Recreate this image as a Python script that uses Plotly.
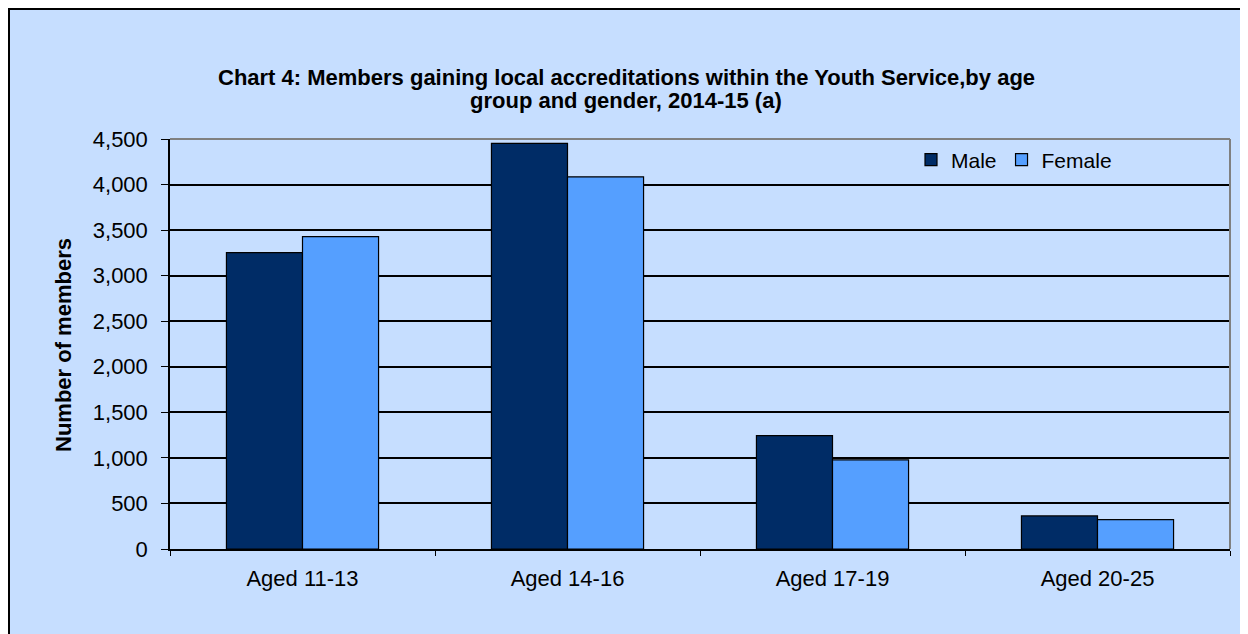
import plotly.graph_objects as go

categories = ["Aged 11-13", "Aged 14-16", "Aged 17-19", "Aged 20-25"]
male = [3252, 4453, 1244, 363]
female = [3428, 4085, 978, 323]
y_ticks = [0, 500, 1000, 1500, 2000, 2500, 3000, 3500, 4000, 4500]
title_lines = [
    "Chart 4: Members gaining local accreditations within the Youth Service,by age",
    "group and gender, 2014-15 (a)",
]

W, H = 1248, 634
OFF = 8  # page body margin offset
L, R, T, B = 162, 26, 131, 93
PW = W - L - R
PH = H - T - B

FONT = "Liberation Sans, Arial, sans-serif"
BG = "#C6DEFF"


def fx(p):  # reference screenshot x -> paper
    return (p - OFF - L) / PW


def fy(p):  # reference screenshot y -> paper
    return (H - B - (p - OFF)) / PH


fig = go.Figure()
fig.add_trace(go.Bar(name="Male", x=categories, y=male,
                     marker=dict(color="#002C66", line=dict(color="black", width=1.2))))
fig.add_trace(go.Bar(name="Female", x=categories, y=female,
                     marker=dict(color="#559FFF", line=dict(color="black", width=1.2))))

shapes = [
    # outer chart frame (cropped on right / bottom)
    dict(type="rect", xref="paper", yref="paper", layer="below",
         x0=(1 - L) / PW, x1=(W + 20 - L) / PW, y0=(H - B - (H + 20)) / PH, y1=(H - B - 1) / PH,
         fillcolor=BG, line=dict(color="black", width=2)),
    # grey top and right edges of plot area
    dict(type="line", xref="paper", yref="paper", x0=0, x1=1, y0=1, y1=1,
         line=dict(color="#808080", width=2)),
    dict(type="line", xref="paper", yref="paper", x0=1, x1=1, y0=0, y1=1,
         line=dict(color="#808080", width=2)),
]

annotations = [
    dict(text="<b>Number of members</b>", textangle=-90,
         xref="paper", yref="paper", x=fx(63), y=fy(345),
         xanchor="center", yanchor="middle", showarrow=False,
         font=dict(family=FONT, size=22, color="black")),
]
for line, ypix in zip(title_lines, [77, 101]):
    annotations.append(dict(
        text="<b>" + line + "</b>", xref="paper", yref="paper",
        x=fx(626), y=fy(ypix), xanchor="center", yanchor="middle", showarrow=False,
        font=dict(family=FONT, size=22, color="black")))

fig.update_layout(
    width=W, height=H,
    margin=dict(l=L, r=R, t=T, b=B, autoexpand=False),
    paper_bgcolor="white",
    plot_bgcolor="white",
    barmode="group",
    bargap=0.426,
    bargroupgap=0,
    font=dict(family=FONT, size=22, color="black"),
    showlegend=True,
    legend=dict(orientation="h", x=fx(911), xanchor="left", y=fy(160), yanchor="middle",
                bgcolor="rgba(0,0,0,0)", font=dict(size=21), itemwidth=30,
                traceorder="normal"),
    xaxis=dict(
        showline=True, linecolor="black", linewidth=1.5,
        ticks="outside", tickson="boundaries", ticklen=5, tickcolor="black",
        ticklabelstandoff=9,
        showgrid=False,
        tickfont=dict(size=22),
    ),
    yaxis=dict(
        range=[0, 4500], tickvals=y_ticks, tickformat=",",
        showline=True, linecolor="black", linewidth=1.5,
        ticks="outside", ticklen=7, tickcolor="black",
        ticklabelstandoff=9,
        showgrid=True, gridcolor="black", gridwidth=1.5,
        zeroline=False,
        tickfont=dict(size=22),
    ),
    shapes=shapes,
    annotations=annotations,
)

fig.write_html("out.html")
